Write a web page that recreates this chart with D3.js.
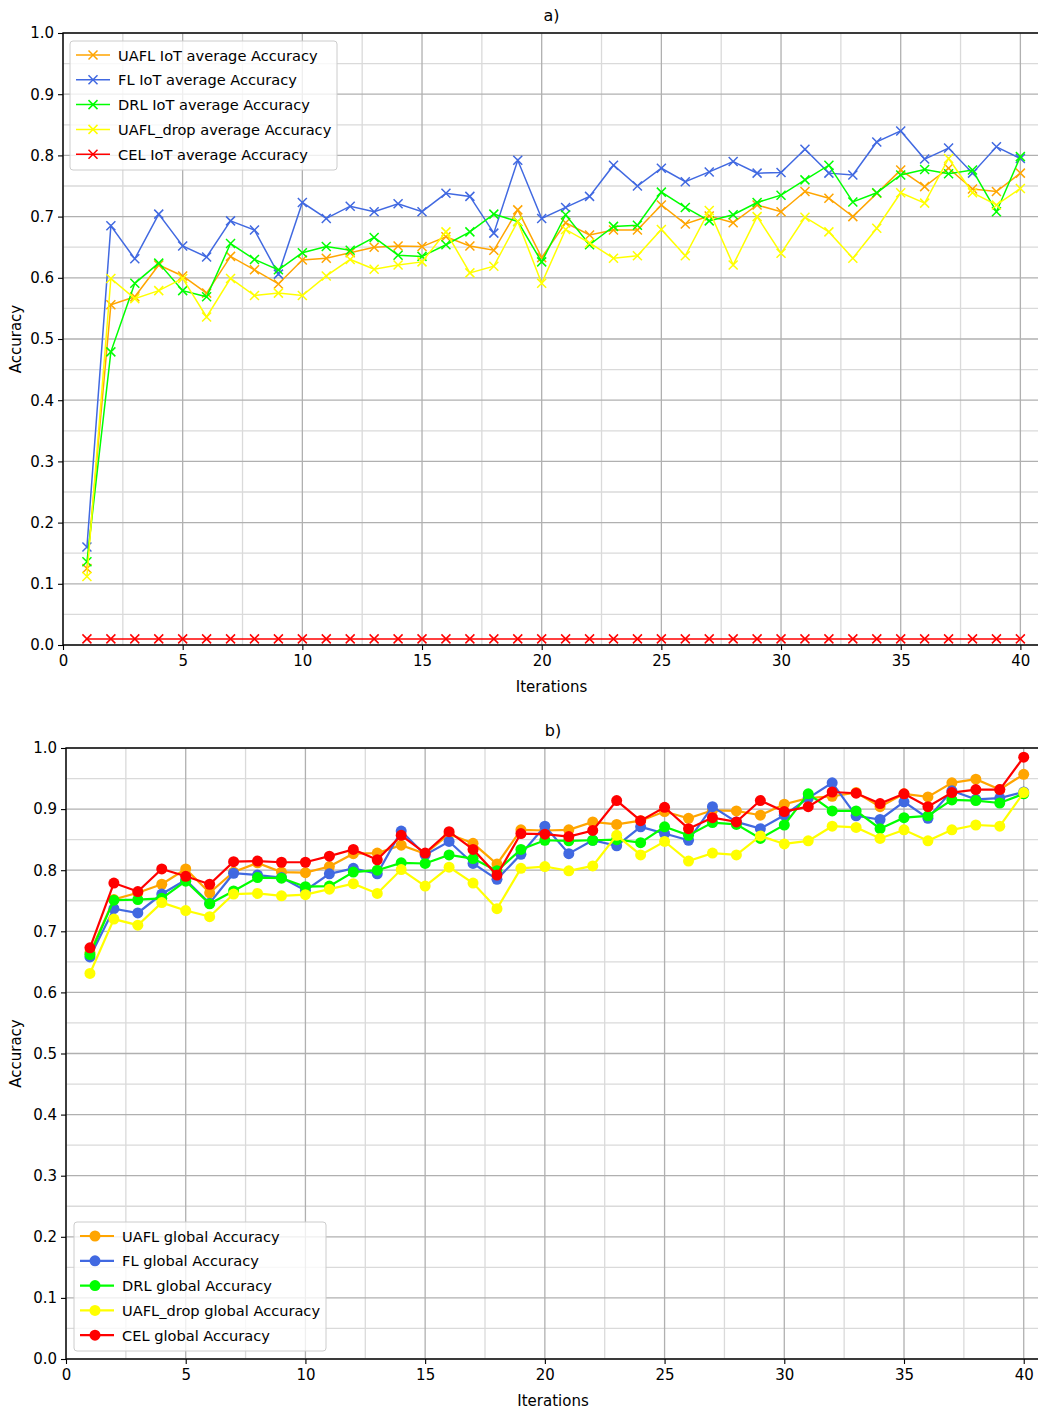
<!DOCTYPE html>
<html>
<head>
<meta charset="utf-8">
<script src="https://cdn.jsdelivr.net/npm/d3@7"></script>
<style>
  html, body { margin: 0; padding: 0; background: #fff; }
  svg { display: block; }
  text { font-family: "DejaVu Sans", sans-serif; fill: #000; }
</style>
</head>
<body>
<script>
// Iterations 1..40
const iterations = d3.range(1, 41);

// a) average accuracy over IoT devices
const uaflIot = [0.125,0.556,0.569,0.621,0.603,0.575,0.635,0.613,0.590,0.629,
                 0.632,0.641,0.650,0.652,0.651,0.667,0.652,0.645,0.711,0.633,
                 0.690,0.670,0.678,0.678,0.719,0.688,0.701,0.690,0.719,0.708,
                 0.741,0.730,0.700,0.738,0.776,0.749,0.779,0.745,0.741,0.771];
const flIot   = [0.160,0.685,0.631,0.704,0.652,0.634,0.693,0.678,0.606,0.723,
                 0.697,0.717,0.708,0.721,0.708,0.738,0.733,0.673,0.792,0.697,
                 0.715,0.733,0.784,0.750,0.779,0.757,0.773,0.790,0.771,0.772,
                 0.810,0.771,0.768,0.822,0.840,0.794,0.812,0.771,0.814,0.795];
const drlIot  = [0.136,0.479,0.591,0.624,0.579,0.569,0.656,0.630,0.613,0.641,
                 0.651,0.645,0.666,0.637,0.635,0.654,0.675,0.704,0.692,0.626,
                 0.703,0.654,0.684,0.686,0.740,0.715,0.693,0.703,0.723,0.735,
                 0.760,0.784,0.724,0.739,0.768,0.777,0.770,0.776,0.708,0.798];
const dropIot = [0.112,0.599,0.566,0.579,0.599,0.536,0.599,0.571,0.575,0.571,
                 0.603,0.630,0.614,0.621,0.626,0.675,0.608,0.619,0.692,0.591,
                 0.679,0.657,0.632,0.636,0.679,0.636,0.710,0.621,0.700,0.640,
                 0.699,0.675,0.632,0.681,0.739,0.722,0.795,0.739,0.719,0.746];
const celIot  = [0.01,0.01,0.01,0.01,0.01,0.01,0.01,0.01,0.01,0.01,
                 0.01,0.01,0.01,0.01,0.01,0.01,0.01,0.01,0.01,0.01,
                 0.01,0.01,0.01,0.01,0.01,0.01,0.01,0.01,0.01,0.01,
                 0.01,0.01,0.01,0.01,0.01,0.01,0.01,0.01,0.01,0.01];

// b) global model accuracy
const uaflGlobal = [0.665,0.752,0.763,0.777,0.802,0.763,0.797,0.812,0.797,0.796,
                    0.806,0.827,0.828,0.841,0.827,0.859,0.844,0.810,0.866,0.865,
                    0.866,0.879,0.875,0.881,0.896,0.885,0.898,0.897,0.890,0.908,
                    0.918,0.921,0.927,0.904,0.925,0.920,0.943,0.949,0.932,0.957];
const flGlobal   = [0.658,0.737,0.730,0.761,0.784,0.746,0.795,0.792,0.788,0.767,
                    0.794,0.803,0.794,0.864,0.825,0.847,0.811,0.785,0.826,0.872,
                    0.827,0.849,0.840,0.871,0.860,0.849,0.904,0.879,0.868,0.890,
                    0.918,0.943,0.889,0.883,0.912,0.885,0.930,0.916,0.918,0.928];
const drlGlobal  = [0.662,0.751,0.752,0.754,0.782,0.745,0.766,0.788,0.787,0.773,
                    0.774,0.797,0.800,0.812,0.811,0.825,0.819,0.799,0.834,0.849,
                    0.848,0.849,0.850,0.845,0.871,0.857,0.878,0.875,0.852,0.874,
                    0.925,0.897,0.897,0.868,0.886,0.889,0.915,0.914,0.910,0.925];
const dropGlobal = [0.631,0.720,0.710,0.747,0.734,0.724,0.761,0.762,0.758,0.760,
                    0.769,0.778,0.762,0.801,0.774,0.805,0.779,0.737,0.803,0.806,
                    0.799,0.807,0.857,0.825,0.847,0.815,0.828,0.825,0.856,0.843,
                    0.848,0.872,0.870,0.852,0.866,0.848,0.866,0.874,0.872,0.927];
const celGlobal  = [0.673,0.779,0.765,0.802,0.790,0.777,0.814,0.815,0.813,0.813,
                    0.823,0.834,0.817,0.857,0.828,0.863,0.834,0.792,0.860,0.859,
                    0.855,0.865,0.914,0.881,0.903,0.868,0.886,0.879,0.914,0.896,
                    0.904,0.928,0.926,0.909,0.925,0.904,0.927,0.932,0.932,0.985];

const iotLabels = ["UAFL IoT average Accuracy", "FL IoT average Accuracy",
                   "DRL IoT average Accuracy", "UAFL_drop average Accuracy",
                   "CEL IoT average Accuracy"];
const globalLabels = ["UAFL global Accuracy", "FL global Accuracy",
                      "DRL global Accuracy", "UAFL_drop global Accuracy",
                      "CEL global Accuracy"];
const seriesColors = ["#ffa500", "#4169e1", "#00ff00", "#ffff00", "#ff0000"];

const xTicks = [0, 5, 10, 15, 20, 25, 30, 35, 40];
const yTicks = [0.0, 0.1, 0.2, 0.3, 0.4, 0.5, 0.6, 0.7, 0.8, 0.9, 1.0];

const W = 1038, H = 1412;
const svg = d3.select("body").append("svg").attr("width", W).attr("height", H);

function drawPanel(cfg) {
  const { left, right, top, bottom, xMax, title, series, labels, marker, legend } = cfg;
  const x = d3.scaleLinear().domain([0, xMax]).range([left, right]);
  const y = d3.scaleLinear().domain([0, 1]).range([bottom, top]);
  const g = svg.append("g");

  const clipId = "clip-" + title.replace(/\W/g, "");
  g.append("clipPath").attr("id", clipId)
    .append("rect").attr("x", left).attr("y", top)
    .attr("width", right - left).attr("height", bottom - top);

  // minor grid
  const grid = g.append("g");
  const minorX = d3.range(2.5, 41, 5);
  const minorY = d3.range(0.05, 1.0, 0.1);
  grid.selectAll(".mx").data(minorX).join("line")
    .attr("x1", d => x(d)).attr("x2", d => x(d)).attr("y1", top).attr("y2", bottom)
    .attr("stroke", "#dadada").attr("stroke-width", 1.3);
  grid.selectAll(".my").data(minorY).join("line")
    .attr("x1", left).attr("x2", right).attr("y1", d => y(d)).attr("y2", d => y(d))
    .attr("stroke", "#dadada").attr("stroke-width", 1.3);
  // major grid
  grid.selectAll(".Mx").data(xTicks).join("line")
    .attr("x1", d => x(d)).attr("x2", d => x(d)).attr("y1", top).attr("y2", bottom)
    .attr("stroke", "#b0b0b0").attr("stroke-width", 1.3);
  grid.selectAll(".My").data(yTicks).join("line")
    .attr("x1", left).attr("x2", right).attr("y1", d => y(d)).attr("y2", d => y(d))
    .attr("stroke", "#b0b0b0").attr("stroke-width", 1.3);

  // series
  const plot = g.append("g").attr("clip-path", `url(#${clipId})`);
  const line = d3.line().x((d, i) => x(iterations[i])).y(d => y(d));
  series.forEach((vals, k) => {
    const c = seriesColors[k];
    plot.append("path").datum(vals).attr("d", line)
      .attr("fill", "none").attr("stroke", c)
      .attr("stroke-width", marker === "x" ? 1.5 : 2.2);
    const pts = plot.append("g");
    vals.forEach((v, i) => {
      const px = x(iterations[i]), py = y(v);
      if (marker === "x") {
        const s = 4.5;
        pts.append("path")
          .attr("d", `M${px - s},${py - s}L${px + s},${py + s}M${px - s},${py + s}L${px + s},${py - s}`)
          .attr("stroke", c).attr("stroke-width", 1.5).attr("fill", "none");
      } else {
        pts.append("circle").attr("cx", px).attr("cy", py).attr("r", 5.5).attr("fill", c);
      }
    });
  });

  // axes
  const xAxis = d3.axisBottom(x).tickValues(xTicks).tickFormat(d3.format("d"))
    .tickSize(5).tickSizeOuter(0).tickPadding(5);
  const yAxis = d3.axisLeft(y).tickValues(yTicks).tickFormat(d3.format(".1f"))
    .tickSize(5).tickSizeOuter(0).tickPadding(4);
  const xa = g.append("g").attr("transform", `translate(0,${bottom})`).call(xAxis);
  const ya = g.append("g").attr("transform", `translate(${left},0)`).call(yAxis);
  [xa, ya].forEach(a => {
    a.select(".domain").remove();
    a.selectAll("line").attr("stroke", "#000").attr("stroke-width", 1.1);
    a.selectAll("text").style("font-family", "'DejaVu Sans', sans-serif")
      .style("font-size", "15px").attr("fill", "#000");
  });

  // frame
  g.append("rect").attr("x", left).attr("y", top)
    .attr("width", right - left).attr("height", bottom - top)
    .attr("fill", "none").attr("stroke", "#000").attr("stroke-width", 1.4);

  // titles
  g.append("text").attr("x", (left + right) / 2).attr("y", top - 12)
    .attr("text-anchor", "middle").style("font-size", "16px").text(title);
  g.append("text").attr("x", (left + right) / 2).attr("y", bottom + 47)
    .attr("text-anchor", "middle").style("font-size", "15px").text("Iterations");
  g.append("text")
    .attr("transform", `translate(21,${(top + bottom) / 2}) rotate(-90)`)
    .attr("text-anchor", "middle").style("font-size", "15px").text("Accuracy");

  // legend
  const lg = g.append("g").attr("transform", `translate(${legend.x},${legend.y})`);
  lg.append("rect").attr("width", legend.w).attr("height", legend.h)
    .attr("rx", 3).attr("fill", "rgba(255,255,255,0.8)")
    .attr("stroke", "#cccccc").attr("stroke-width", 1);
  labels.forEach((lab, k) => {
    const cy = 14 + k * 24.8;
    const c = seriesColors[k];
    lg.append("line").attr("x1", 6).attr("x2", 40).attr("y1", cy).attr("y2", cy)
      .attr("stroke", c).attr("stroke-width", marker === "x" ? 1.5 : 2.2);
    if (marker === "x") {
      const s = 4.5, mx = 23;
      lg.append("path")
        .attr("d", `M${mx - s},${cy - s}L${mx + s},${cy + s}M${mx - s},${cy + s}L${mx + s},${cy - s}`)
        .attr("stroke", c).attr("stroke-width", 1.5);
    } else {
      lg.append("circle").attr("cx", 21).attr("cy", cy).attr("r", 5.5).attr("fill", c);
    }
    lg.append("text").attr("x", legend.tx).attr("y", cy + 5.5)
      .style("font-size", "14.6px").text(lab);
  });
}

drawPanel({
  left: 63, right: 1040, top: 33, bottom: 645, xMax: 40.82,
  title: "a)", series: [uaflIot, flIot, drlIot, dropIot, celIot],
  labels: iotLabels, marker: "x",
  legend: { x: 70, y: 41, w: 267, h: 129, tx: 48 }
});

drawPanel({
  left: 66, right: 1040, top: 748, bottom: 1359, xMax: 40.68,
  title: "b)", series: [uaflGlobal, flGlobal, drlGlobal, dropGlobal, celGlobal],
  labels: globalLabels, marker: "o",
  legend: { x: 74, y: 1222, w: 252, h: 129, tx: 48 }
});
</script>
</body>
</html>
